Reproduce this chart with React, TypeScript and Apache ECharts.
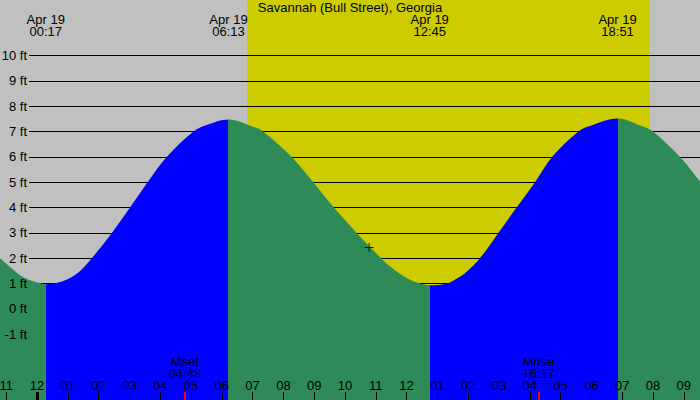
import React, { useEffect, useRef } from "react";
import * as echarts from "echarts";

// ---------- data ----------
const chartTitle = "Savannah (Bull Street), Georgia";
const dateLabel = "Apr 19";

// tide curve: hours after midnight, height in feet
const tideHours = [
  -1.3, -0.88, -0.55, -0.23, 0.1, 0.283, 0.75, 1.07, 1.4, 1.78, 2.43, 3.02, 3.59, 4.21,
  5.07, 5.51, 6.217, 7.02, 7.35, 8.27, 8.97, 9.64, 10.38, 11.17, 11.46, 11.79, 12.11, 12.33,
  12.75, 13.3, 13.63, 13.95, 14.38, 14.98, 15.57, 16.17, 16.72, 17.57, 17.95, 18.85, 19.69, 20.01,
  20.88, 21.53, 21.7,
];
const tideFeet = [
  2.1, 1.66, 1.33, 1.13, 1.02, 0.97, 1.06, 1.22, 1.5, 2.0, 3.0, 4.0, 5.0, 6.0,
  7.0, 7.26, 7.48, 7.19, 7.0, 6.0, 5.0, 4.0, 3.0, 2.0, 1.68, 1.38, 1.15, 1.04,
  0.93, 1.0, 1.2, 1.47, 2.0, 3.0, 4.0, 5.0, 6.0, 7.0, 7.22, 7.52, 7.19, 7.0,
  6.0, 5.02, 4.75,
];

const tideEventTimes = ["00:17", "06:13", "12:45", "18:51"];
const tideEventKinds = ["low", "high", "low", "high"];

const moonEventNames = ["Mset", "Mrise"];
const moonEventTimes = ["04:48", "16:17"];

const sunriseTime = "06:49";
const sunsetTime = "19:54";

const midnightHours = [0];

const nowTime = "10:47";
const nowFeet = 2.42;

const footTickMin = -1;
const footTickMax = 10;

// ---------- styles ----------
const GRAY = "#c0c0c0";
const YELLOW = "#cccc00";
const GREEN = "#2e8b57";
const BLUE = "#0000ff";
const FONT = "'Liberation Sans', Arial, sans-serif";

const toHours = (t: string) => {
  const [h, m] = t.split(":").map(Number);
  return h + m / 60;
};

const pad2 = (n: number) => String(n).padStart(2, "0");

export default function App() {
  const ref = useRef<HTMLDivElement>(null);

  useEffect(() => {
    document.body.style.margin = "0";
    if (!ref.current) return;
    const chart = echarts.init(ref.current, null, { renderer: "svg" });

    const evH = tideEventTimes.map(toHours);
    const pieces: any[] = [];
    pieces.push({ lt: evH[0], color: tideEventKinds[0] === "low" ? GREEN : BLUE });
    for (let i = 0; i < evH.length - 1; i++) {
      pieces.push({
        gte: evH[i],
        lt: evH[i + 1],
        color: tideEventKinds[i] === "low" ? BLUE : GREEN,
      });
    }
    pieces.push({
      gte: evH[evH.length - 1],
      color: tideEventKinds[evH.length - 1] === "low" ? BLUE : GREEN,
    });

    const tideData = tideHours.map((h, i) => [h, tideFeet[i]]);
    const moonH = moonEventTimes.map(toHours);

    const xRange = { min: -2, max: 22 };
    const fullGrid = {
      left: -24.6,
      right: -14.6,
      top: 0,
      bottom: 0,
      outerBoundsMode: "none",
      containLabel: false,
    };

    const hourFmt = (v: number) => {
      const h = ((Math.round(v) % 12) + 12) % 12;
      return pad2(h === 0 ? 12 : h);
    };

    const nearest = (arr: number[], v: number) => {
      let idx = 0;
      let best = Infinity;
      arr.forEach((m, i) => {
        if (Math.abs(m - v) < best) {
          best = Math.abs(m - v);
          idx = i;
        }
      });
      return idx;
    };

    const option: any = {
      animation: false,
      backgroundColor: GRAY,
      textStyle: { fontFamily: FONT, color: "#000" },
      title: {
        text: chartTitle,
        left: "center",
        top: 1,
        padding: 0,
        textStyle: { fontSize: 13, fontWeight: "normal", color: "#000", fontFamily: FONT },
      },
      grid: [
        { ...fullGrid },
        {
          left: 29,
          right: 0,
          top: 55.5,
          bottom: 65.8,
          outerBoundsMode: "none",
          containLabel: false,
        },
        { ...fullGrid },
      ],
      xAxis: [
        { gridIndex: 0, type: "value", ...xRange, show: false },
        { gridIndex: 1, type: "value", min: 0, max: 1, show: false },
        // hour ticks & labels
        {
          gridIndex: 2,
          type: "value",
          position: "bottom",
          ...xRange,
          interval: 1,
          z: 6,
          axisLine: { show: false },
          splitLine: { show: false },
          axisTick: { show: true, inside: true, length: 8, lineStyle: { color: "#000", width: 1 } },
          axisLabel: {
            inside: true,
            margin: 14.5,
            verticalAlign: "middle",
            fontSize: 13,
            color: "#000",
            fontFamily: FONT,
            hideOverlap: false,
            formatter: hourFmt,
          },
        },
        // midnight thick tick
        {
          gridIndex: 2,
          type: "value",
          position: "bottom",
          ...xRange,
          z: 7,
          axisLine: { show: false },
          splitLine: { show: false },
          axisLabel: { show: false },
          axisTick: {
            show: true,
            inside: true,
            length: 8,
            customValues: midnightHours,
            lineStyle: { color: "#000", width: 3 },
          },
        },
        // moon ticks
        {
          gridIndex: 2,
          type: "value",
          position: "bottom",
          ...xRange,
          z: 7,
          axisLine: { show: false },
          splitLine: { show: false },
          axisLabel: { show: false },
          axisTick: {
            show: true,
            inside: true,
            length: 8,
            customValues: moonH,
            lineStyle: { color: "#ff0000", width: 2 },
          },
        },
        // moon labels
        {
          gridIndex: 2,
          type: "value",
          position: "bottom",
          ...xRange,
          z: 7,
          axisLine: { show: false },
          splitLine: { show: false },
          axisTick: { show: false },
          axisLabel: {
            show: true,
            inside: true,
            margin: 32.5,
            verticalAlign: "middle",
            lineHeight: 12,
            fontSize: 13,
            color: "#000",
            fontFamily: FONT,
            customValues: moonH,
            formatter: (v: number) => {
              const idx = nearest(moonH, v);
              return moonEventNames[idx] + "\n" + moonEventTimes[idx];
            },
          },
        },
        // tide event labels at top
        {
          gridIndex: 2,
          type: "value",
          position: "top",
          ...xRange,
          z: 7,
          axisLine: { show: false },
          splitLine: { show: false },
          axisTick: { show: false },
          axisLabel: {
            show: true,
            inside: true,
            margin: 25.5,
            verticalAlign: "middle",
            lineHeight: 12,
            fontSize: 13,
            color: "#000",
            fontFamily: FONT,
            customValues: evH,
            formatter: (v: number) => {
              const idx = nearest(evH, v);
              return dateLabel + "\n" + tideEventTimes[idx];
            },
          },
        },
      ],
      yAxis: [
        { gridIndex: 0, type: "value", min: -3.6, max: 12.2, show: false },
        // split lines
        {
          gridIndex: 1,
          type: "value",
          position: "left",
          min: footTickMin,
          max: footTickMax,
          interval: 1,
          z: 3,
          axisLine: { show: false },
          axisTick: { show: false },
          axisLabel: { show: false },
          splitLine: { show: true, lineStyle: { color: "#000", width: 1 } },
        },
        // labels
        {
          gridIndex: 1,
          type: "value",
          position: "left",
          min: footTickMin,
          max: footTickMax,
          interval: 1,
          z: 6,
          axisLine: { show: false },
          axisTick: { show: false },
          splitLine: { show: false },
          axisLabel: {
            margin: 2,
            fontSize: 13,
            color: "#000",
            fontFamily: FONT,
            formatter: (v: number) => `${v} ft`,
          },
        },
        { gridIndex: 2, type: "value", min: 0, max: 1, show: false },
      ],
      visualMap: {
        type: "piecewise",
        show: false,
        dimension: 0,
        seriesIndex: 1,
        pieces,
      },
      series: [
        {
          type: "line",
          xAxisIndex: 0,
          yAxisIndex: 0,
          data: [],
          z: 1,
          silent: true,
          markArea: {
            silent: true,
            z: 1,
            itemStyle: { color: YELLOW, opacity: 1 },
            data: [[{ xAxis: toHours(sunriseTime) }, { xAxis: toHours(sunsetTime) }]],
          },
        },
        {
          type: "line",
          xAxisIndex: 0,
          yAxisIndex: 0,
          data: tideData,
          z: 4,
          smooth: 0.35,
          showSymbol: false,
          symbol: "none",
          silent: true,
          lineStyle: { width: 0, opacity: 0 },
          areaStyle: { opacity: 1, origin: "start" },
        },
        {
          type: "scatter",
          xAxisIndex: 0,
          yAxisIndex: 0,
          data: [[toHours(nowTime), nowFeet]],
          symbol: "path://M4,0H5V4H9V5H5V9H4V5H0V4H4Z",
          symbolSize: 9,
          itemStyle: { color: "#000" },
          z: 5,
          silent: true,
        },
      ],
    };

    chart.setOption(option);
    return () => chart.dispose();
  }, []);

  return (
    <div
      ref={ref}
      style={{ position: "fixed", left: 0, top: 0, width: 700, height: 400 }}
    />
  );
}
